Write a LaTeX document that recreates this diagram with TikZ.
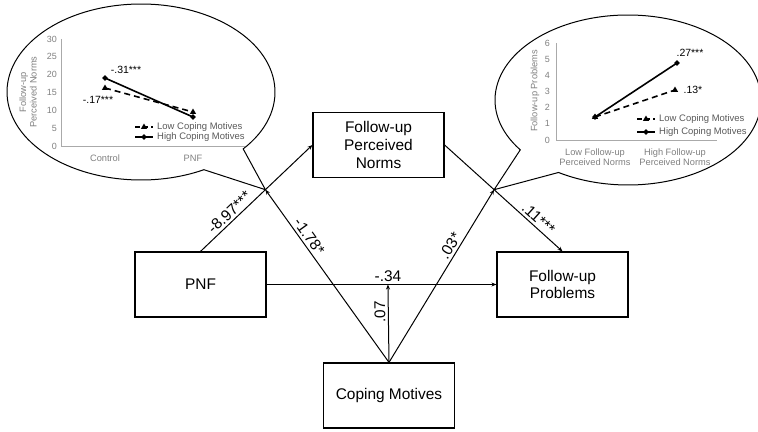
\documentclass[tikz,border=0pt]{standalone}
\usepackage{fontspec}
\setmainfont{Liberation Sans}
\usetikzlibrary{arrows.meta,shapes.geometric,positioning}
\definecolor{axisgray}  {RGB}{170,170,170}
\definecolor{tickgray}  {RGB}{128,128,128}
\definecolor{legendgray}{RGB}{89,89,89}
\tikzset{
  varbox/.style  ={draw, line width=1.2bp, minimum width=131bp,
                   minimum height=65bp, align=center, inner sep=2bp,
                   font=\fontsize{15.5}{18}\selectfont},
  arr/.style     ={-{Stealth[length=5bp,width=4bp]}, line width=1bp},
  elabel/.style  ={sloped, above, inner sep=2.5bp,
                   font=\fontsize{15.5}{18}\selectfont},
  callout/.style ={draw, line width=1bp},
  axisline/.style={draw=axisgray, line width=0.8bp},
  ticklab/.style ={text=tickgray, anchor=east, inner sep=1bp,
                   font=\fontsize{9}{10}\selectfont},
  axtitle/.style ={text=tickgray, align=center, rotate=90, inner sep=0pt,
                   font=\fontsize{9.3}{10.5}\selectfont},
  catlab/.style  ={text=tickgray, align=center, inner sep=0pt,
                   font=\fontsize{9.3}{10.5}\selectfont},
  leglab/.style  ={text=legendgray, anchor=west, inner sep=0pt,
                   font=\fontsize{9.5}{11}\selectfont},
  vallab/.style  ={inner sep=0pt, font=\fontsize{10.5}{12}\selectfont},
  lowline/.style ={line width=1.6bp, dash pattern=on 6bp off 4bp},
  highline/.style={line width=1.6bp},
  lowpt/.style   ={regular polygon, regular polygon sides=3, fill=black,
                   inner sep=0pt, minimum size=7bp},
  highpt/.style  ={diamond, fill=black, inner sep=0pt, minimum size=6bp},
}
\begin{document}
\begin{tikzpicture}[x=1bp,y=1bp]
  \useasboundingbox (0,0) rectangle (758,431);
  \clip (0,0) rectangle (758,431);

  % model boxes
  \node[varbox] (pnf)    at (200.5,146.5) {PNF};
  \node[varbox] (norms)  at (378.5,286)   {Follow-up\\Perceived\\Norms};
  \node[varbox] (probs)  at (562.5,146.5) {Follow-up\\Problems};
  \node[varbox] (coping) at (389,35.5)    {Coping Motives};

  % paths of the model
  \draw[arr] (pnf.north) -- node[elabel, pos=0.31] {-8.97***}
             coordinate[pos=0.58] (m1) (norms.west);
  \draw[arr] (norms.east) -- node[elabel, pos=0.75] {.11***}
             coordinate[pos=0.42] (m2) (probs.north);
  \draw[arr] (pnf.east) -- node[elabel, pos=0.528] {-.34}
             coordinate[pos=0.528] (m3) (probs.west);
  \draw[arr] (coping.north) -- node[elabel, pos=0.7] {-1.78*} (m1);
  \draw[arr] (coping.north) -- node[elabel, pos=0.65] {.03*} (m2);
  \draw[arr] (coping.north) -- node[elabel, pos=0.65, allow upside down]
             {.07} (m3);

  % callouts
  \draw[callout] ([shift={(-40.3:134 and 88)}]141,339)
    arc[start angle=-40.3, end angle=298, x radius=134, y radius=88]
    -- (m1) -- cycle;
  \draw[callout] ([shift={(-144.1:133 and 85)}]628,331)
    arc[start angle=-144.1, end angle=-481.5, x radius=133, y radius=85]
    -- (m2) -- cycle;

  % left chart: perceived norms
  \draw[axisline] (61,392) -- (61,285) -- (245,285);
  \foreach \v in {0,5,...,30}
    \node[ticklab] (lt\v) at (58,{285+\v*3.567}) {\v};
  \node[axtitle] (lytitle) at (28,339) {Follow-up\\Perceived Norms};
  \node[catlab] (lcat1) at (105,273) {Control};
  \node[catlab] (lcat2) at (193,273) {PNF};
  \node[highpt] (lhc) at (105,353) {};
  \node[highpt] (lhp) at (193,314) {};
  \node[lowpt]  (llc) at (105,343) {};
  \node[lowpt]  (llp) at (193,319) {};
  \draw[highline] (lhc.center) -- (lhp.center);
  \draw[lowline]  (llc.center) -- (llp.center);
  \node[vallab] (lhval) at (126,361) {-.31***};
  \node[vallab] (llval) at (98,331)  {-.17***};
  \node[lowpt]  (llkey) at (144,304) {};
  \draw[lowline, dash pattern=on 5bp off 3bp] (135,304) -- (153,304);
  \node[leglab] (lllow) at (157,304) {Low Coping Motives};
  \node[highpt] (lhkey) at (144,294) {};
  \draw[highline] (135,294) -- (153,294);
  \node[leglab] (llhigh) at (157,294) {High Coping Motives};

  % right chart: problems
  \draw[axisline] (556,388) -- (556,291) -- (717,291);
  \foreach \v in {0,...,6}
    \node[ticklab] (rt\v) at (551,{291+\v*16.17}) {\v};
  \node[axtitle] (rytitle) at (535,340) {Follow-up Problems};
  \node[catlab] (rcat1) at (595,274) {Low Follow-up\\Perceived Norms};
  \node[catlab] (rcat2) at (675,274) {High Follow-up\\Perceived Norms};
  \node[lowpt]  (rlc) at (595,314) {};
  \node[highpt] (rhc) at (595,314) {};
  \node[highpt] (rhp) at (677,368) {};
  \node[lowpt]  (rlp) at (675,341) {};
  \draw[highline] (rhc.center) -- (rhp.center);
  \draw[lowline]  (rlc.center) -- (rlp.center);
  \node[vallab] (rhval) at (690,378) {.27***};
  \node[vallab] (rlval) at (693,341) {.13*};
  \node[lowpt]  (rlkey) at (646,312) {};
  \draw[lowline, dash pattern=on 5bp off 3bp] (637,312) -- (655,312);
  \node[leglab] (rllow) at (659,312) {Low Coping Motives};
  \node[highpt] (rhkey) at (646,299) {};
  \draw[highline] (637,299) -- (655,299);
  \node[leglab] (rlhigh) at (659,299) {High Coping Motives};
\end{tikzpicture}
\end{document}
